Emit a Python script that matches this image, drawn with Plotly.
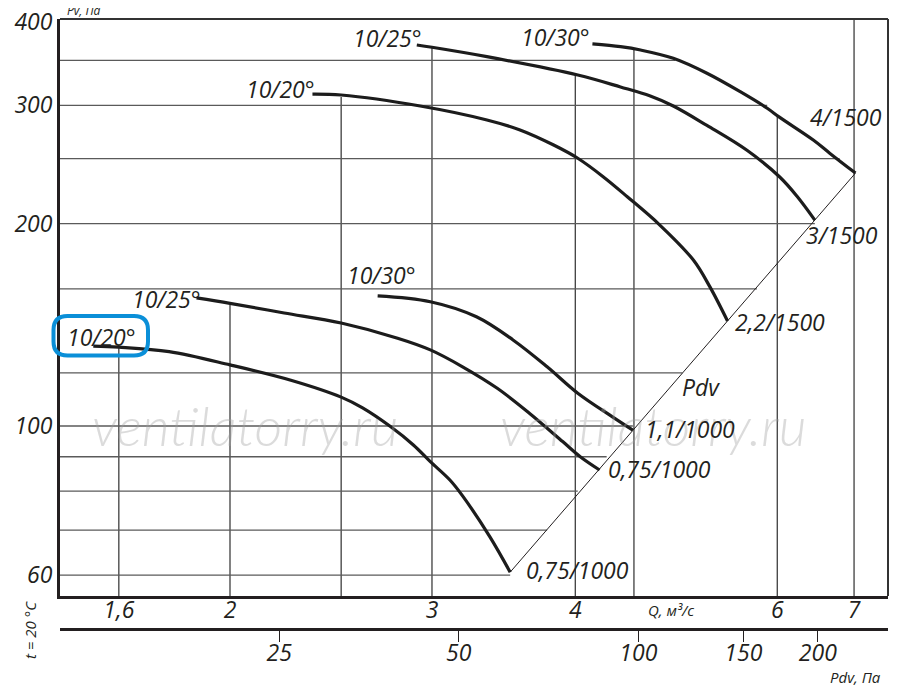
import plotly.graph_objects as go

INK = "#231f20"
GRID_H = "#5a5a5a"
GRID_V = "#2e2e2e"
BLUE = "#0a8fd8"
FONT = "'Open Sans', 'Liberation Sans', sans-serif"

# Q, m3/s  /  Pv, Pa
q_20_075 = [1.52, 1.60, 1.77, 2.00, 2.26, 2.50, 2.61, 2.76, 2.89, 2.99, 3.11, 3.19, 3.37, 3.51]
p_20_075 = [131.5, 131.0, 129.0, 123.3, 117.0, 110.4, 106.4, 99.8, 93.7, 88.5, 83.1, 78.7, 68.4, 60.6]

q_25_075 = [1.87, 2.00, 2.23, 2.50, 2.80, 2.99, 3.19, 3.42, 3.65, 3.90, 4.04, 4.20]
p_25_075 = [155.1, 152.2, 147.3, 142.3, 135.1, 129.8, 122.5, 113.8, 104.4, 94.8, 90.0, 86.0]

q_30_11 = [2.69, 2.99, 3.28, 3.53, 3.78, 4.02, 4.31, 4.49]
p_30_11 = [156.2, 153.1, 145.4, 134.3, 122.5, 111.9, 103.2, 98.6]

q_20_22 = [2.36, 2.50, 2.93, 3.35, 3.58, 3.83, 4.02, 4.23, 4.44, 4.74, 5.07, 5.24, 5.43]
p_20_22 = [311.9, 310.9, 299.4, 285.4, 275.8, 261.9, 250.3, 235.0, 219.4, 199.1, 176.6, 161.2, 143.3]

q_25_3 = [2.91, 3.00, 3.35, 4.02, 4.38, 4.65, 4.87, 5.21, 5.65, 6.03, 6.24, 6.47]
p_25_3 = [369.0, 366.1, 354.5, 332.9, 319.6, 309.8, 299.4, 280.1, 257.0, 234.7, 219.9, 202.5]

q_30_4 = [4.14, 4.38, 4.56, 4.87, 5.21, 5.57, 5.88, 6.03, 6.45, 6.67, 7.02]
p_30_4 = [370.5, 366.9, 362.7, 352.5, 334.9, 314.4, 297.1, 287.9, 266.4, 254.5, 237.9]

curves = [
    (q_20_075, p_20_075), (q_25_075, p_25_075), (q_30_11, p_30_11),
    (q_20_22, p_20_22), (q_25_3, p_25_3), (q_30_4, p_30_4),
]

# grid: vertical lines run from the bottom up to the upper curve,
# horizontal lines from the left edge to the curve / Pdv line
Q_MIN, Q_MAX = 10 ** 0.15282, 10 ** 0.87470
P_MIN, P_MAX = 10 ** 1.7470, 10 ** 2.6057
vgrid_q = [1.6, 2, 2.5, 3, 4, 4.5, 6, 7]
vgrid_top = [131.0, 151.4, 308.8, 366.5, 332.9, 362.7, 288.5, P_MAX]
hgrid_p = [350, 300, 250, 200, 160, 120, 100, 90, 80, 70, 60]
hgrid_end = [4.89, 5.88, 6.80, 6.47, 5.76, 4.96, 4.49, 4.26, 4.02, 3.78, 3.51]

q_ticks = [1.6, 2, 3, 4, 6, 7]
q_ticktext = ["1,6", "2", "3", "4", "6", "7"]
p_ticks = [60, 100, 200, 300, 400]
pdv_ticks = [25, 50, 100, 150, 200]

blade_labels = ["10/20°", "10/25°", "10/30°", "10/20°", "10/25°", "10/30°"]
motor_labels = ["0,75/1000", "0,75/1000", "1,1/1000", "2,2/1500", "3/1500", "4/1500"]

# the page puts the figure 8px in from the window corner; plot area spans
# window x 60..888 and y 19..596 (paper y=0 at window y 637)


def px(x):
    return (x - 60) / 828


def py(y):
    return (637 - y) / 618


def ann(text, x, y, size=23, **kw):
    kw.setdefault("yanchor", "middle")
    return dict(text=text, xref="paper", yref="paper", x=px(x), y=py(y),
                showarrow=False, xanchor="center",
                font=dict(family=FONT, size=size, color=INK, style="italic"), **kw)


fig = go.Figure()

gx, gy = [], []
for q, top in zip(vgrid_q, vgrid_top):
    gx += [q, q, None]
    gy += [P_MIN, top, None]
fig.add_trace(go.Scatter(x=gx, y=gy, mode="lines", line=dict(color=GRID_V, width=1.2),
                         hoverinfo="skip", showlegend=False))

hx, hy = [], []
for p, end in zip(hgrid_p, hgrid_end):
    hx += [Q_MIN, end, None]
    hy += [p, p, None]
fig.add_trace(go.Scatter(x=hx, y=hy, mode="lines", line=dict(color=GRID_H, width=1.3),
                         hoverinfo="skip", showlegend=False))

# Pdv line through the ends of the curves
fig.add_trace(go.Scatter(x=[q_20_075[-1], q_30_4[-1]], y=[p_20_075[-1], p_30_4[-1]],
                         mode="lines", line=dict(color=INK, width=1),
                         hoverinfo="skip", showlegend=False))

for (q, p), name in zip(curves, motor_labels):
    fig.add_trace(go.Scatter(x=q, y=p, mode="lines", name=name,
                             line=dict(color="#1c1c1c", width=3.2, shape="spline", smoothing=1.0),
                             showlegend=False))

# invisible helper so the Pdv scale gets drawn
fig.add_trace(go.Scatter(x=pdv_ticks, y=[P_MIN] * len(pdv_ticks), xaxis="x2", mode="markers",
                         marker=dict(opacity=0), hoverinfo="skip", showlegend=False))

annotations = []
for cx in (245, 653):
    annotations.append(dict(
        text="ventilatorry.ru", xref="paper", yref="paper", x=px(cx), y=py(425),
        showarrow=False, xanchor="center", yanchor="middle",
        font=dict(family="Lato, 'Open Sans', sans-serif", size=54, weight=300, style="italic",
                  color="rgba(160,160,160,0.38)"),
    ))
annotations += [
    # blade angle labels
    ann(blade_labels[0], 101, 337),
    ann(blade_labels[1], 166, 299),
    ann(blade_labels[2], 381, 275),
    ann(blade_labels[3], 280, 89),
    ann(blade_labels[4], 387, 38),
    ann(blade_labels[5], 555, 37),
    # motor labels
    ann(motor_labels[0], 577, 570),
    ann(motor_labels[1], 659, 469),
    ann(motor_labels[2], 690, 429),
    ann(motor_labels[3], 780, 322),
    ann(motor_labels[4], 842, 235),
    ann(motor_labels[5], 846, 117),
    ann("Pdv", 701, 387),
    # axis titles
    ann("Pv, Па", 84, 21, size=12, yanchor="bottom"),
    ann("Q, м³/с", 671, 610, size=15),
    ann("Pdv, Па", 855, 677, size=15),
    ann("t = 20 °C", 30, 630, size=15, textangle=-90),
]

# rounded box around the lower 10/20° label
x0, x1, y0, y1, r = 53.5, 148, 316, 355.5, 14
box = (f"M {px(x0 + r)} {py(y0)} L {px(x1 - r)} {py(y0)} Q {px(x1)} {py(y0)} {px(x1)} {py(y0 + r)} "
       f"L {px(x1)} {py(y1 - r)} Q {px(x1)} {py(y1)} {px(x1 - r)} {py(y1)} "
       f"L {px(x0 + r)} {py(y1)} Q {px(x0)} {py(y1)} {px(x0)} {py(y1 - r)} "
       f"L {px(x0)} {py(y0 + r)} Q {px(x0)} {py(y0)} {px(x0 + r)} {py(y0)} Z")

shapes = [
    dict(type="line", xref="x domain", yref="y domain", x0=0, x1=1, y0=1, y1=1,
         line=dict(color="#333", width=2)),
    dict(type="line", xref="x domain", yref="y domain", x0=1, x1=1, y0=0, y1=1,
         line=dict(color="#333", width=2)),
    dict(type="path", xref="paper", yref="paper", path=box, line=dict(color=BLUE, width=4)),
]

tick_font = dict(family=FONT, size=23, color=INK, style="italic")

fig.update_layout(
    width=892, height=679,
    margin=dict(l=52, r=12, t=11, b=50, autoexpand=False),
    paper_bgcolor="white", plot_bgcolor="white",
    showlegend=False,
    xaxis=dict(type="log", range=[0.15282, 0.87470], tickvals=q_ticks, ticktext=q_ticktext,
               showgrid=False, zeroline=False, showline=True, linewidth=3, linecolor=INK,
               ticks="", tickfont=tick_font, ticklabelstandoff=-9, automargin=False,
               ticklabeloverflow="allow"),
    yaxis=dict(type="log", range=[1.7470, 2.6057], domain=[(637 - 596) / 618, 1],
               tickvals=p_ticks, ticktext=[str(v) for v in p_ticks],
               showgrid=False, zeroline=False, showline=True, linewidth=3, linecolor=INK,
               ticks="", tickfont=tick_font, automargin=False, ticklabeloverflow="allow"),
    xaxis2=dict(type="log", range=[1.0303, 2.4187], overlaying="x", anchor="free",
                position=(637 - 628.7) / 618, side="bottom",
                tickvals=pdv_ticks, ticktext=[str(v) for v in pdv_ticks],
                showgrid=False, zeroline=False, showline=True, linewidth=2.5, linecolor=INK,
                ticks="outside", ticklen=12, tickwidth=1.2, tickcolor=INK, tickfont=tick_font,
                ticklabelstandoff=-9, automargin=False, ticklabeloverflow="allow"),
    annotations=annotations,
    shapes=shapes,
)

fig.write_html("out.html")
